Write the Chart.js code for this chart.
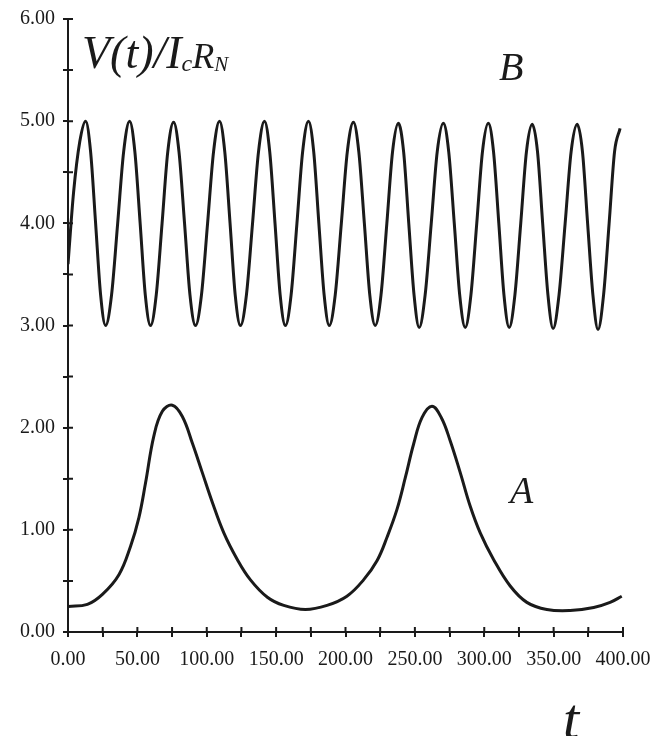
<!DOCTYPE html>
<html>
<head>
<meta charset="utf-8">
<script src="https://cdn.jsdelivr.net/npm/chart.js@4.4.1/dist/chart.umd.min.js"></script>
<style>
  html, body { margin: 0; padding: 0; background: #fff; }
  #wrap { width: 650px; height: 736px; }
</style>
</head>
<body>
<div id="wrap"><canvas id="plot" width="650" height="736"></canvas></div>
<script>
// curve A (slow oscillation)
const tA = [0, 14, 25, 36.7, 45.1, 51.1, 55.9, 61.9, 68, 75.2, 82.4, 89.6, 96.8, 104, 112.3, 122, 131.5,
            143.7, 155.5, 171.1, 186.7, 201, 213, 222.8, 230, 237.1, 243.1, 249.1, 255.2, 262.3, 269,
            275.5, 282.7, 289.9, 297.1, 306.7, 318.7, 330.7, 345.1, 361.9, 378.9, 390.7, 399.1];
const vA = [0.25, 0.27, 0.37, 0.56, 0.84, 1.12, 1.46, 1.92, 2.16, 2.22, 2.11, 1.85, 1.56, 1.27, 0.97, 0.71, 0.51,
            0.34, 0.26, 0.22, 0.26, 0.35, 0.51, 0.70, 0.93, 1.20, 1.51, 1.84, 2.10, 2.21, 2.10,
            1.87, 1.56, 1.23, 0.97, 0.71, 0.45, 0.29, 0.22, 0.21, 0.24, 0.29, 0.35];

// curve B (fast oscillation): peaks, troughs and points on the flanks
const tB = [0, 4, 8.5, 12.7,
            16.3, 19.9, 23.5, 27.1, 31.4, 35.8, 40.1, 44.4, 48.2, 52.0, 55.7, 59.5,
            63.6, 67.8, 71.9, 76.1, 80.0, 84.0, 87.9, 91.9, 96.2, 100.6, 104.9, 109.2,
            113.0, 116.8, 120.5, 124.3, 128.6, 133.0, 137.3, 141.6, 145.4, 149.2, 152.9, 156.7,
            160.8, 165.0, 169.1, 173.3, 177.1, 180.8, 184.6, 188.3, 192.6, 197.0, 201.3, 205.7,
            209.6, 213.6, 217.5, 221.4, 225.6, 229.8, 233.9, 238.1, 241.9, 245.6, 249.4, 253.1,
            257.4, 261.8, 266.1, 270.5, 274.4, 278.4, 282.3, 286.3, 290.4, 294.6, 298.7, 302.9,
            306.7, 310.5, 314.2, 318.0, 322.1, 326.3, 330.4, 334.6, 338.4, 342.1, 345.9, 349.6,
            353.9, 358.3, 362.6, 367.0, 370.8, 374.5, 378.3, 382.0, 386.0, 390.0, 393.9, 397.9];
const vB = [3.6, 4.3, 4.8, 5.0,
            4.7, 4.0, 3.3, 3.0, 3.3, 4.0, 4.7, 5.0, 4.7, 4.0, 3.3, 3.0,
            3.3, 4.0, 4.7, 4.99, 4.7, 4.0, 3.3, 3.0, 3.3, 4.0, 4.7, 5.0,
            4.7, 4.0, 3.3, 3.0, 3.3, 4.0, 4.7, 5.0, 4.7, 4.0, 3.3, 3.0,
            3.3, 4.0, 4.7, 5.0, 4.7, 4.0, 3.3, 3.0, 3.3, 4.0, 4.7, 4.99,
            4.7, 4.0, 3.3, 3.0, 3.3, 4.0, 4.7, 4.98, 4.7, 4.0, 3.3, 2.98,
            3.3, 4.0, 4.7, 4.98, 4.7, 4.0, 3.3, 2.98, 3.3, 4.0, 4.7, 4.98,
            4.7, 4.0, 3.3, 2.98, 3.3, 4.0, 4.7, 4.97, 4.7, 4.0, 3.3, 2.97,
            3.3, 4.0, 4.7, 4.97, 4.7, 4.0, 3.3, 2.96, 3.3, 4.0, 4.7, 4.93];

const xTicks = [0, 50, 100, 150, 200, 250, 300, 350, 400];
const yTicks = [0, 1, 2, 3, 4, 5, 6];

const serif = "'Liberation Serif', 'Times New Roman', serif";
const ink = '#1a1a1a';

function pts(ts, vs) {
    return ts.map((t, i) => ({x: t, y: vs[i]}));
}

// ticks in the original cross the axis, chart.js only draws the outer half
const crossTicks = {
    id: 'crossTicks',
    afterDraw(chart) {
        const c = chart.ctx, xs = chart.scales.x, ys = chart.scales.y;
        c.save();
        c.strokeStyle = ink;
        c.lineWidth = 2;
        c.beginPath();
        ys.ticks.forEach(tk => {
            const y = ys.getPixelForValue(tk.value);
            c.moveTo(xs.left, y); c.lineTo(xs.left + 5, y);
        });
        xs.ticks.forEach(tk => {
            const x = xs.getPixelForValue(tk.value);
            c.moveTo(x, ys.bottom); c.lineTo(x, ys.bottom - 5);
        });
        c.stroke();

        // curve names and axis titles
        c.fillStyle = ink;
        c.textBaseline = 'alphabetic';
        c.textAlign = 'left';
        let x = 82;
        c.font = 'italic 46px ' + serif;
        c.fillText('V(t)/I', x, 68);
        x += c.measureText('V(t)/I').width;
        c.font = 'italic 24px ' + serif;
        c.fillText('c', x, 71);
        x += c.measureText('c').width;
        c.font = 'italic 36px ' + serif;
        c.fillText('R', x, 68);
        x += c.measureText('R').width;
        c.font = 'italic 21px ' + serif;
        c.fillText('N', x, 71);

        c.font = 'italic 40px ' + serif;
        c.fillText('B', 499, 80);
        c.font = 'italic 38px ' + serif;
        c.fillText('A', 510, 503);
        c.font = 'italic 58px ' + serif;
        c.fillText('t', 563, 738);
        c.restore();
    }
};

new Chart(document.getElementById('plot'), {
    type: 'scatter',
    data: {
        datasets: [
            {label: 'B', data: pts(tB, vB), cubicInterpolationMode: 'monotone'},
            {label: 'A', data: pts(tA, vA), tension: 0.4}
        ]
    },
    options: {
        responsive: false,
        animation: false,
        events: [],
        showLine: true,
        elements: {
            point: {radius: 0},
            line: {borderColor: ink, borderWidth: 3, fill: false}
        },
        layout: {padding: {top: 19, right: 27, left: 0, bottom: 0}},
        plugins: {legend: {display: false}, tooltip: {enabled: false}},
        scales: {
            x: {
                type: 'linear', min: 0, max: 400,
                afterFit: s => { s.height = 104; s.paddingLeft = 0; s.paddingRight = 0; },
                border: {color: ink, width: 2},
                grid: {drawOnChartArea: false, drawTicks: true, tickLength: 5, color: ink, lineWidth: 2},
                ticks: {
                    stepSize: 25, autoSkip: false, maxRotation: 0, padding: 11,
                    color: ink, font: {family: serif, size: 20},
                    callback: v => xTicks.includes(v) ? v.toFixed(2) : ''
                }
            },
            y: {
                min: 0, max: 6,
                afterFit: s => { s.width = 68; s.paddingTop = 0; s.paddingBottom = 0; },
                border: {color: ink, width: 2},
                grid: {drawOnChartArea: false, drawTicks: true, tickLength: 5, color: ink, lineWidth: 2},
                ticks: {
                    stepSize: 0.5, autoSkip: false, padding: 8,
                    color: ink, font: {family: serif, size: 20},
                    callback: v => yTicks.includes(v) ? v.toFixed(2) : ''
                }
            }
        }
    },
    plugins: [crossTicks]
});
</script>
</body>
</html>
